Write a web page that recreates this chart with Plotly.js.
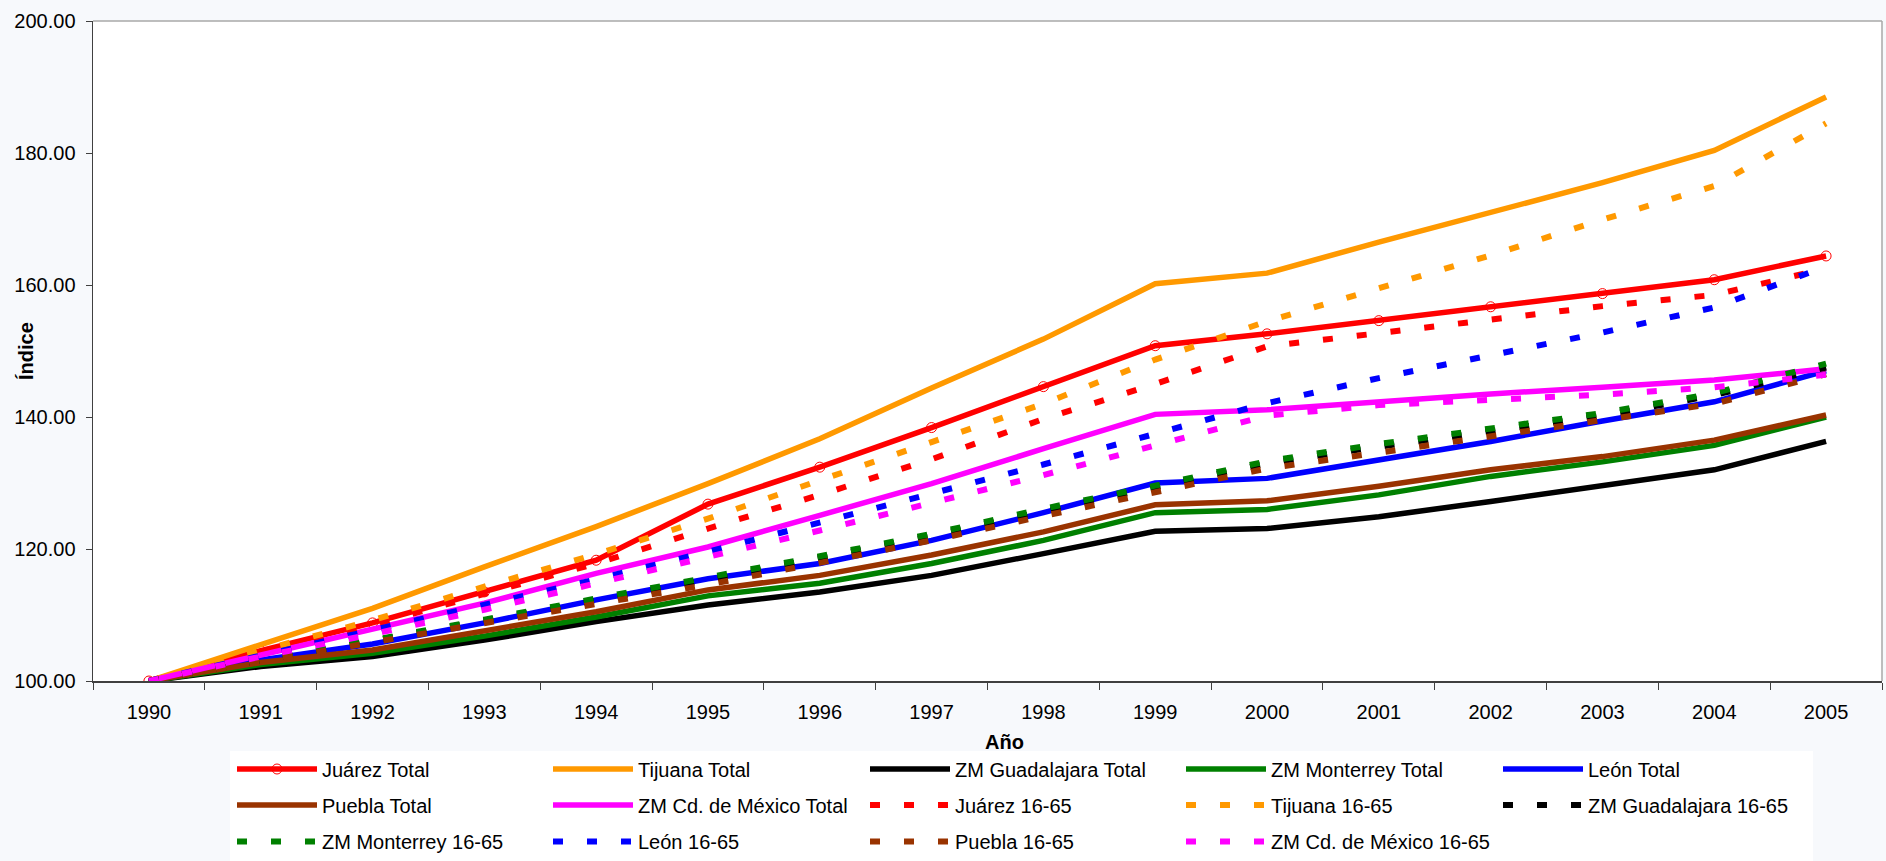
<!DOCTYPE html>
<html>
<head>
<meta charset="utf-8">
<script src="https://cdn.plot.ly/plotly-3.0.1.min.js"></script>
<style>html,body{margin:0;padding:0;background:#f7f9fc;}#chart{width:1886px;height:861px;}</style>
</head>
<body>
<div id="chart"></div>
<script>
const years = ['1990','1991','1992','1993','1994','1995','1996','1997','1998','1999','2000','2001','2002','2003','2004','2005'];

const juarezTotal      = [100, 104.6, 108.8, 113.5, 118.3, 126.8, 132.4, 138.4, 144.6, 150.8, 152.6, 154.6, 156.7, 158.7, 160.8, 164.4];
const tijuanaTotal     = [100, 105.6, 111.0, 117.3, 123.4, 129.9, 136.7, 144.4, 151.8, 160.2, 161.8, 166.5, 171.0, 175.5, 180.4, 188.5];
const guadalajaraTotal = [100, 102.2, 103.7, 106.2, 109.0, 111.5, 113.5, 116.0, 119.3, 122.7, 123.1, 124.9, 127.2, 129.5, 132.0, 136.3];
const monterreyTotal   = [100, 102.5, 104.2, 106.8, 109.7, 112.9, 114.8, 117.8, 121.3, 125.5, 126.0, 128.2, 131.0, 133.2, 135.7, 140.0];
const leonTotal        = [100, 103.2, 105.6, 108.8, 112.3, 115.5, 117.8, 121.3, 125.5, 130.0, 130.7, 133.4, 136.3, 139.4, 142.3, 147.0];
const pueblaTotal      = [100, 102.8, 104.7, 107.5, 110.5, 113.8, 116.0, 119.1, 122.6, 126.7, 127.3, 129.5, 132.0, 134.0, 136.5, 140.3];
const mexicoTotal      = [100, 103.9, 107.7, 111.8, 116.3, 120.3, 125.1, 129.9, 135.2, 140.4, 141.1, 142.4, 143.5, 144.5, 145.6, 147.3];

const juarez1665       = [100, 104.3, 108.5, 113.2, 117.8, 123.1, 128.2, 133.6, 139.7, 145.0, 150.7, 152.7, 154.8, 156.8, 158.5, 162.5];
const tijuana1665      = [100, 104.7, 109.2, 114.3, 119.2, 124.6, 130.3, 136.2, 142.0, 148.7, 154.5, 159.6, 164.5, 169.9, 175.0, 184.5];
const guadalajara1665  = [100, 103.0, 106.0, 109.1, 112.2, 115.3, 118.6, 122.0, 125.7, 129.3, 133.0, 135.5, 137.8, 140.2, 143.3, 147.5];
const monterrey1665    = [100, 103.2, 106.2, 109.3, 112.5, 115.6, 118.9, 122.3, 126.1, 129.6, 133.3, 135.9, 138.2, 140.6, 143.6, 148.1];
const leon1665         = [100, 103.9, 107.6, 111.5, 115.4, 119.6, 123.9, 128.4, 132.8, 137.5, 142.1, 145.9, 149.4, 152.8, 156.6, 162.8];
const puebla1665       = [100, 102.9, 105.9, 108.8, 111.8, 114.6, 117.9, 121.3, 125.0, 128.5, 132.2, 134.6, 137.0, 139.5, 142.0, 146.5];
const mexico1665       = [100, 103.7, 107.1, 110.8, 114.8, 118.7, 122.8, 127.0, 131.2, 135.7, 140.2, 141.8, 142.6, 143.4, 144.5, 146.4];

const FONT = 'Liberation Sans, Arial, sans-serif';
const DASH = '10px,24px';

function solid(name, y, color, marker) {
  const t = {x: years, y: y, name: name, type: 'scatter', mode: marker ? 'lines+markers' : 'lines',
    line: {color: color, width: 5.5}};
  if (marker) t.marker = {symbol: 'circle-open', size: 10, color: color, line: {width: 1, color: color}};
  return t;
}
function dashed(name, y, color) {
  return {x: years, y: y, name: name, type: 'scatter', mode: 'lines',
    line: {color: color, width: 6, dash: DASH}};
}

const data = [
  solid('Juárez Total', juarezTotal, '#FF0000', true),
  solid('Tijuana Total', tijuanaTotal, '#FF9900'),
  solid('ZM Guadalajara Total', guadalajaraTotal, '#000000'),
  solid('ZM Monterrey Total', monterreyTotal, '#008000'),
  solid('León Total', leonTotal, '#0000FF'),
  solid('Puebla Total', pueblaTotal, '#993300'),
  solid('ZM Cd. de México Total', mexicoTotal, '#FF00FF'),
  dashed('Juárez 16-65', juarez1665, '#FF0000'),
  dashed('Tijuana 16-65', tijuana1665, '#FF9900'),
  dashed('ZM Guadalajara 16-65', guadalajara1665, '#000000'),
  dashed('ZM Monterrey 16-65', monterrey1665, '#008000'),
  dashed('León 16-65', leon1665, '#0000FF'),
  dashed('Puebla 16-65', puebla1665, '#993300'),
  dashed('ZM Cd. de México 16-65', mexico1665, '#FF00FF')
];

const L = 93, R = 4, T = 21, B = 180;
const W = 1886 - L - R, H = 861 - T - B;
const px = v => (v - L) / W;
const py = v => (861 - B - v) / H;

const layout = {
  width: 1886, height: 861,
  margin: {l: L, r: R, t: T, b: B, autoexpand: false},
  paper_bgcolor: '#f7f9fc',
  plot_bgcolor: '#ffffff',
  font: {family: FONT, size: 20, color: '#000'},
  showlegend: true,
  xaxis: {type: 'category', range: [-0.5, 15.5], tickson: 'boundaries', ticks: 'outside', ticklen: 7,
    tickcolor: '#404040', showline: true, linecolor: '#404040', linewidth: 1.5, showgrid: false,
    zeroline: false, tickfont: {family: FONT, size: 20}, ticklabelstandoff: 12, fixedrange: true},
  yaxis: {range: [100, 200], dtick: 20, tick0: 100, tickformat: '.2f', ticks: 'outside', ticklen: 6,
    tickcolor: '#404040', showline: true, linecolor: '#404040', linewidth: 1.5, showgrid: false,
    zeroline: false, tickfont: {family: FONT, size: 20}, ticklabelstandoff: 6, fixedrange: true},
  shapes: [
    {type: 'rect', xref: 'paper', yref: 'paper', x0: px(230), x1: px(1813), y0: py(751), y1: py(861),
      fillcolor: '#ffffff', line: {width: 0}, layer: 'above'},
    {type: 'line', xref: 'paper', yref: 'paper', x0: 0, x1: 1, y0: 1, y1: 1, line: {color: '#a8a8a8', width: 1.5}, layer: 'above'},
    {type: 'line', xref: 'paper', yref: 'paper', x0: 1, x1: 1, y0: 0, y1: 1, line: {color: '#a8a8a8', width: 1.5}, layer: 'above'}
  ],
  annotations: [
    {text: '<b>Índice</b>', xref: 'paper', yref: 'paper', x: px(26), y: 0.5, xanchor: 'center', yanchor: 'middle',
      textangle: -90, showarrow: false, font: {family: FONT, size: 20, color: '#000'}},
    {text: '<b>Año</b>', xref: 'paper', yref: 'paper', x: px(1004), y: py(755), xanchor: 'center', yanchor: 'bottom',
      showarrow: false, font: {family: FONT, size: 20, color: '#000'}}
  ]
};

// one legend per entry, laid out in a 5-column grid like the reference
const colX = [232, 548, 865, 1181, 1498];
const rowY = [769, 805, 841.5];
data.forEach((tr, i) => {
  const key = i === 0 ? 'legend' : 'legend' + (i + 1);
  tr.legend = key;
  layout[key] = {
    x: px(colX[i % 5]), xanchor: 'left', y: py(rowY[Math.floor(i / 5)]), yanchor: 'middle',
    orientation: 'v', bgcolor: 'rgba(0,0,0,0)', borderwidth: 0, itemwidth: 80,
    font: {family: FONT, size: 20, color: '#000'}
  };
});

Plotly.newPlot('chart', data, layout, {displayModeBar: false, staticPlot: true});
</script>
</body>
</html>
